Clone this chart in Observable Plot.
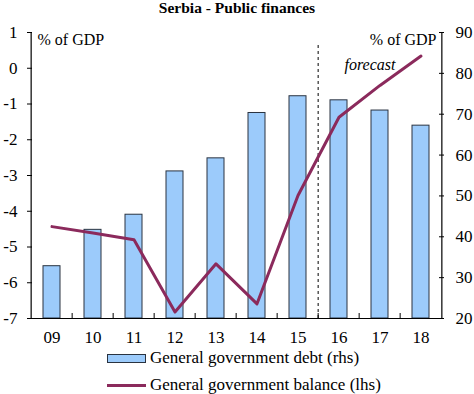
<!DOCTYPE html>
<html>
<head>
<meta charset="utf-8">
<script src="https://cdn.jsdelivr.net/npm/d3@7"></script>
<script src="https://cdn.jsdelivr.net/npm/@observablehq/plot@0.6"></script>
<style>
  body { margin: 0; background: #fff; font-family: "Liberation Serif", "DejaVu Serif", serif; width: 474px; }
  #title { height: 17px; line-height: 16px; text-align: center; font-weight: bold; font-size: 15.5px; color: #000; }
  .leg { position: relative; height: 20px; line-height: 20px; font-size: 17px; color: #000; }
  .sw { position: absolute; left: 107px; }
  .lt { position: absolute; left: 150px; top: 0; }
</style>
</head>
<body>
<div id="title">Serbia - Public finances</div>
<div id="chart"></div>
<div class="leg" style="margin-top:0px"><span class="sw" style="top:6px;width:37px;height:7px;background:#9ccbfb;border:1px solid #2a3340;"></span><span class="lt">General government debt (rhs)</span></div>
<div class="leg" style="margin-top:7px"><span class="sw" style="top:9px;width:39px;height:3px;background:#8b2a5c;"></span><span class="lt">General government balance (lhs)</span></div>
<script>
const years = ["09","10","11","12","13","14","15","16","17","18"];
const debt = [32.8, 41.7, 45.4, 56.0, 59.2, 70.3, 74.4, 73.4, 70.9, 67.2];
const balance = [-4.43, -4.61, -4.8, -6.82, -5.47, -6.59, -3.56, -1.37, -0.48, 0.34];
const leftTicks = [1, 0, -1, -2, -3, -4, -5, -6, -7];
const rightTicks = [20, 30, 40, 50, 60, 70, 80, 90];

const L0 = -7, L1 = 1, R0 = 20, R1 = 90;
const toLeft = v => L0 + (v - R0) / (R1 - R0) * (L1 - L0);
const fromLeft = v => R0 + (v - L0) / (L1 - L0) * (R1 - R0);

const rows = years.map((y, i) => ({year: y, debt: debt[i], debtL: toLeft(debt[i]), bal: balance[i]}));

const W = 474, mL = 27, mR = 30;
const bw = (W - mL - mR) / years.length;
const font = "Liberation Serif";

const chart = Plot.plot({
  width: W,
  height: 331,
  marginLeft: mL,
  marginRight: mR,
  marginTop: 15,
  marginBottom: 30,
  style: {fontFamily: font, fontSize: "17px", color: "#000", background: "#fff"},
  x: {domain: years, padding: 0, label: null},
  y: {domain: [L0, L1], label: null},
  marks: [
    Plot.barY(rows, {x: "year", y1: L0, y2: "debtL", fill: "#9ccbfb", stroke: "#2a3340", strokeWidth: 1, insetLeft: 12, insetRight: 12}),
    Plot.ruleX([years[7]], {dx: -bw / 2, y1: L0, y2: 0.7, stroke: "#000", strokeWidth: 1, strokeDasharray: "3,3"}),
    Plot.lineY(rows, {x: "year", y: "bal", stroke: "#8b2a5c", strokeWidth: 3, strokeLinejoin: "round"}),
    // axis lines
    Plot.ruleY([L0], {stroke: "#000", strokeWidth: 1.2}),
    Plot.ruleX([years[0]], {dx: -bw / 2, stroke: "#000", strokeWidth: 1.2}),
    Plot.ruleX([years[years.length - 1]], {dx: bw / 2, stroke: "#000", strokeWidth: 1.2}),
    // inward ticks
    Plot.ruleY(leftTicks, {insetRight: W - mL - mR - 5, stroke: "#000"}),
    Plot.ruleY(rightTicks.map(toLeft), {insetLeft: W - mL - mR - 5, stroke: "#000"}),
    Plot.ruleX(years.slice(1), {dx: -bw / 2, insetTop: 286 - 5, stroke: "#000"}),
    // axes labels
    Plot.axisY({anchor: "left", ticks: leftTicks, tickSize: 0, tickPadding: 10, tickFormat: d => String(d), label: null, fontSize: 17}),
    Plot.axisY({anchor: "right", ticks: rightTicks.map(toLeft), tickSize: 0, tickPadding: 11, tickFormat: d => String(Math.round(fromLeft(d))), label: null, fontSize: 17}),
    Plot.axisX({tickSize: 0, tickPadding: 12, label: null, fontSize: 17}),
    Plot.text(["% of GDP"], {frameAnchor: "top-left", textAnchor: "start", dx: 10, dy: 1, fontSize: 16}),
    Plot.text(["% of GDP"], {frameAnchor: "top-right", textAnchor: "end", dx: -8, dy: 1, fontSize: 16}),
    Plot.text(["forecast"], {x: [years[8]], frameAnchor: "top", dx: -10, dy: 26, fontSize: 16, fontStyle: "italic"})
  ]
});
document.getElementById("chart").appendChild(chart);
</script>
</body>
</html>
